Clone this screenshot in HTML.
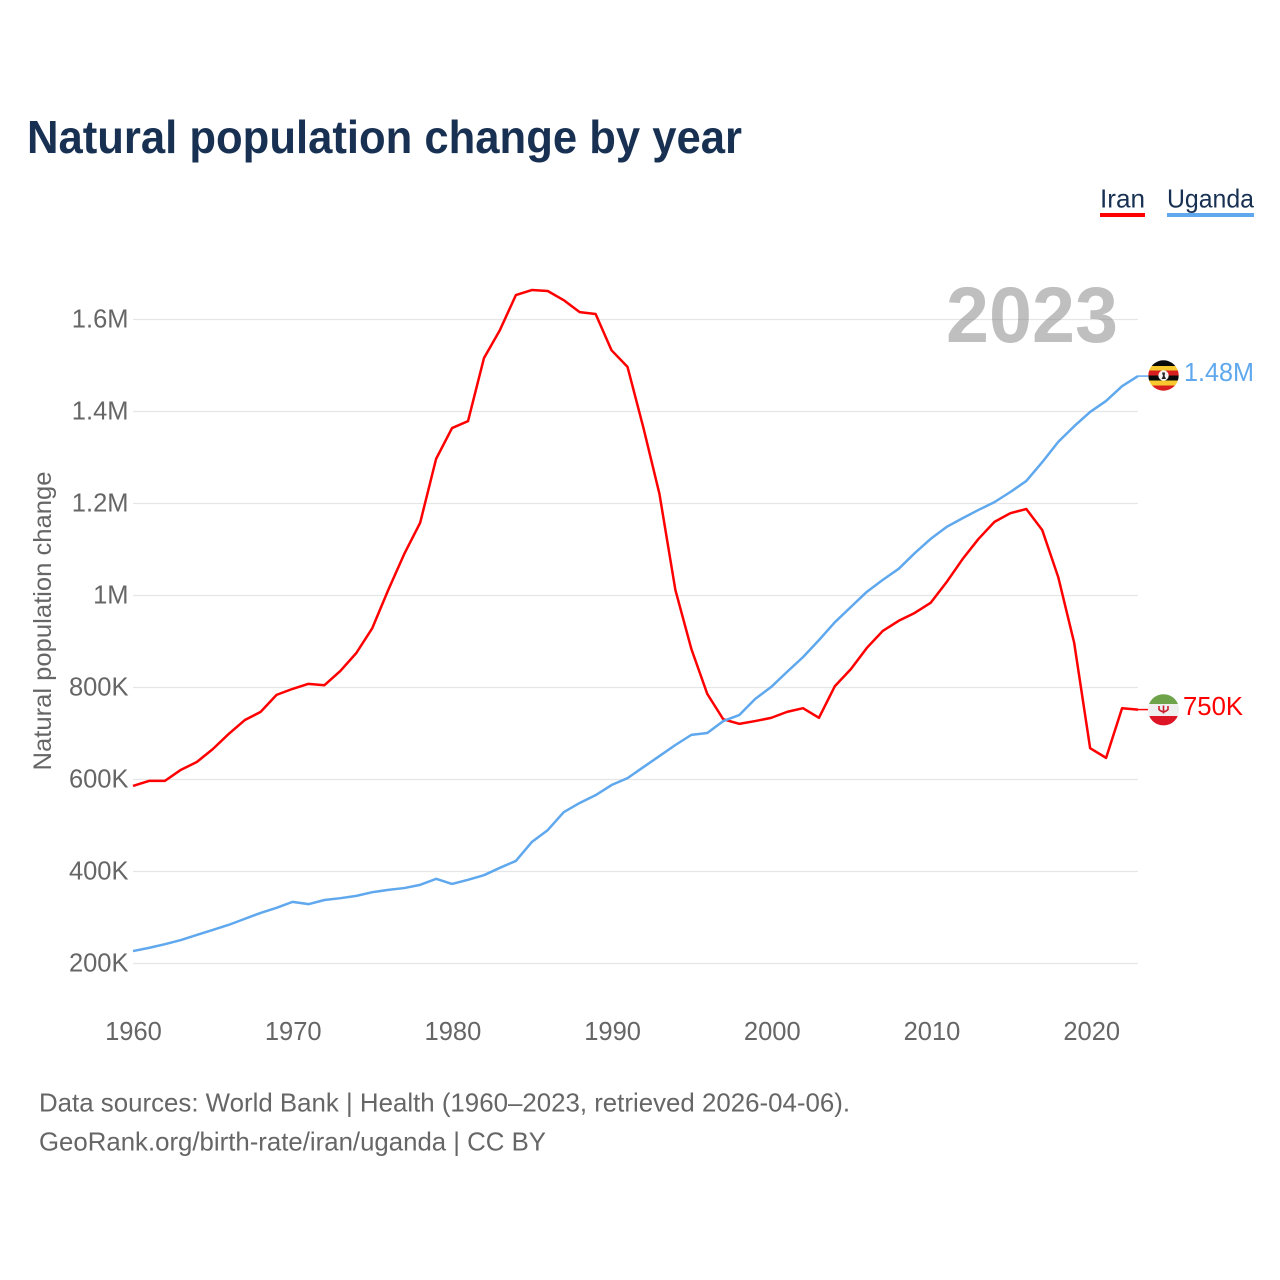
<!DOCTYPE html>
<html lang="en">
<head>
<meta charset="utf-8">
<title>Natural population change by year</title>
<style>
html,body{margin:0;padding:0;background:#fff;width:1280px;height:1280px;overflow:hidden}
svg{display:block;font-family:"Liberation Sans",sans-serif}
</style>
</head>
<body>
<svg id="chart" xmlns="http://www.w3.org/2000/svg" width="1280" height="1280" viewBox="0 0 1280 1280">
  <rect width="1280" height="1280" fill="#fff"/>
  <text x="27" y="153" font-size="46" font-weight="700" fill="#183153" textLength="715" lengthAdjust="spacingAndGlyphs">Natural population change by year</text>

  <g>
    <text x="1100" y="207.5" font-size="26" fill="#183153" textLength="45" lengthAdjust="spacingAndGlyphs">Iran</text>
    <rect x="1100" y="213" width="45" height="4" fill="#ff0000"/>
  </g>
  <g>
    <text x="1167" y="207.5" font-size="26" fill="#183153" textLength="87" lengthAdjust="spacingAndGlyphs">Uganda</text>
    <rect x="1167" y="213" width="87" height="4" fill="#5fa8ee"/>
  </g>

  <g id="grid"></g>
  <g id="yticks"></g>
  <g id="xticks"></g>
  <text transform="translate(51,621) rotate(-90)" text-anchor="middle" font-size="25" fill="#666" textLength="299" lengthAdjust="spacingAndGlyphs">Natural population change</text>

  <text x="946" y="342" font-size="79" font-weight="700" fill="#808080" fill-opacity="0.5" textLength="172" lengthAdjust="spacingAndGlyphs">2023</text>

  <g id="series"></g>

  <defs>
    <clipPath id="flag-clip-ug"><circle cx="1163.5" cy="375.5" r="15.2"/></clipPath>
    <clipPath id="flag-clip-ir"><circle cx="1163.5" cy="709.8" r="15.6"/></clipPath>
  </defs>
  <g id="flag-uganda" clip-path="url(#flag-clip-ug)">
    <rect x="1148" y="360" width="31" height="6" fill="#0a0a0a"/>
    <rect x="1148" y="366" width="31" height="4.5" fill="#f7c92e"/>
    <rect x="1148" y="370.5" width="31" height="5" fill="#d81e1e"/>
    <rect x="1148" y="375.5" width="31" height="5" fill="#0a0a0a"/>
    <rect x="1148" y="380.5" width="31" height="5" fill="#f7c92e"/>
    <rect x="1148" y="385.5" width="31" height="6" fill="#d81e1e"/>
    <circle cx="1163.5" cy="375.5" r="5.2" fill="#f4f4f4"/>
    <path d="M1162 372.5 L1165 372.5 L1164.6 376 L1166 379 L1161.5 379 L1163 376 Z" fill="#222"/>
  </g>
  <g id="flag-iran" clip-path="url(#flag-clip-ir)">
    <rect x="1147" y="694" width="33" height="10" fill="#6ea34a"/>
    <rect x="1147" y="704" width="33" height="12" fill="#efefef"/>
    <rect x="1147" y="716" width="33" height="10" fill="#dc1426"/>
    <path d="M1159 706 v3.5 q4.5 4.5 9 0 v-3.5 M1163.5 705.5 v8" fill="none" stroke="#c8202e" stroke-width="1.6"/>
  </g>

  <text x="1184" y="381" font-size="26" fill="#5fa8ee" textLength="70" lengthAdjust="spacingAndGlyphs">1.48M</text>
  <text x="1183" y="715" font-size="26" fill="#ff0000" textLength="60" lengthAdjust="spacingAndGlyphs">750K</text>

  <text x="39" y="1111.5" font-size="26" fill="#666" textLength="811" lengthAdjust="spacingAndGlyphs">Data sources: World Bank | Health (1960–2023, retrieved 2026-04-06).</text>
  <text x="39" y="1150.5" font-size="26" fill="#666" textLength="507" lengthAdjust="spacingAndGlyphs">GeoRank.org/birth-rate/iran/uganda | CC BY</text>
</svg>
<script>
const years = [1960,1961,1962,1963,1964,1965,1966,1967,1968,1969,1970,1971,1972,1973,1974,1975,1976,1977,1978,1979,1980,1981,1982,1983,1984,1985,1986,1987,1988,1989,1990,1991,1992,1993,1994,1995,1996,1997,1998,1999,2000,2001,2002,2003,2004,2005,2006,2007,2008,2009,2010,2011,2012,2013,2014,2015,2016,2017,2018,2019,2020,2021,2022,2023];
const iranValues = [586,597,597,621,638,666,699,729,747,784,797,808,805,836,875,929,1012,1090,1158,1297,1364,1379,1516,1577,1653,1664,1662,1642,1616,1612,1533,1497,1364,1221,1012,884,786,731,721,727,734,747,755,734,803,840,886,923,945,962,984,1029,1079,1123,1160,1179,1188,1142,1040,897,668,647,755,752];
const ugandaValues = [227,234,242,251,262,273,284,297,310,321,334,329,338,342,347,355,360,364,371,384,373,382,392,408,423,464,490,529,549,566,588,603,627,651,675,697,701,727,740,775,801,834,866,903,942,975,1008,1034,1058,1092,1123,1149,1168,1186,1203,1225,1249,1290,1334,1368,1399,1423,1455,1477];
const yTickValues = [200,400,600,800,1000,1200,1400,1600];
const yTickLabels = ['200K','400K','600K','800K','1M','1.2M','1.4M','1.6M'];
const xTickValues = [1960,1970,1980,1990,2000,2010,2020];

const NS = 'http://www.w3.org/2000/svg';
const xScale = function (year) { return 133 + (year - 1960) * (1005 / 63); };
const yScale = function (value) { return 963.5 - (value - 200) * 0.46; };
const xLabelScale = function (year) { return 133.5 + (year - 1960) * 15.97; };

function make(tag, parent) {
  const node = document.createElementNS(NS, tag);
  parent.appendChild(node);
  return node;
}

const grid = document.getElementById('grid');
const yticks = document.getElementById('yticks');
yTickValues.forEach(function (value, i) {
  const line = make('line', grid);
  
  
  line.setAttribute('x1', xScale(1960));
  line.setAttribute('x2', xScale(2023));
  line.setAttribute('y1', yScale(value));
  line.setAttribute('y2', yScale(value));
  line.setAttribute('stroke', '#e6e6e6');
  line.setAttribute('stroke-width', '1.2');

  const label = make('text', yticks);
  
  
  label.setAttribute('x', 128.5);
  label.setAttribute('y', yScale(value) + 8);
  label.setAttribute('text-anchor', 'end');
  label.setAttribute('font-size', '25.5');
  label.setAttribute('fill', '#666');
  label.textContent = yTickLabels[i];
});

const xticks = document.getElementById('xticks');
xTickValues.forEach(function (year) {
  const label = make('text', xticks);
  
  
  label.setAttribute('x', xLabelScale(year));
  label.setAttribute('y', 1040);
  label.setAttribute('text-anchor', 'middle');
  label.setAttribute('font-size', '25.5');
  label.setAttribute('fill', '#666');
  label.textContent = String(year);
});

function pathFor(values) {
  return values.map(function (value, i) {
    return (i ? 'L' : 'M') + xScale(years[i]).toFixed(2) + ' ' + yScale(value).toFixed(2);
  }).join(' ');
}

const seriesGroup = document.getElementById('series');

const iranLine = make('path', seriesGroup);


iranLine.setAttribute('d', pathFor(iranValues));
iranLine.setAttribute('fill', 'none');
iranLine.setAttribute('stroke', '#ff0000');
iranLine.setAttribute('stroke-width', '2.5');
iranLine.setAttribute('stroke-linejoin', 'round');

const ugandaLine = make('path', seriesGroup);


ugandaLine.setAttribute('d', pathFor(ugandaValues));
ugandaLine.setAttribute('fill', 'none');
ugandaLine.setAttribute('stroke', '#5fa8ee');
ugandaLine.setAttribute('stroke-width', '2.5');
ugandaLine.setAttribute('stroke-linejoin', 'round');

const iranLeader = make('line', seriesGroup);


iranLeader.setAttribute('x1', xScale(2023));
iranLeader.setAttribute('y1', yScale(iranValues[iranValues.length - 1]));
iranLeader.setAttribute('x2', 1148);
iranLeader.setAttribute('y2', yScale(iranValues[iranValues.length - 1]));
iranLeader.setAttribute('stroke', '#ff0000');
iranLeader.setAttribute('stroke-width', '1.5');

const ugandaLeader = make('line', seriesGroup);


ugandaLeader.setAttribute('x1', xScale(2023));
ugandaLeader.setAttribute('y1', yScale(ugandaValues[ugandaValues.length - 1]));
ugandaLeader.setAttribute('x2', 1148);
ugandaLeader.setAttribute('y2', yScale(ugandaValues[ugandaValues.length - 1]));
ugandaLeader.setAttribute('stroke', '#5fa8ee');
ugandaLeader.setAttribute('stroke-width', '1.5');
</script>
</body>
</html>
